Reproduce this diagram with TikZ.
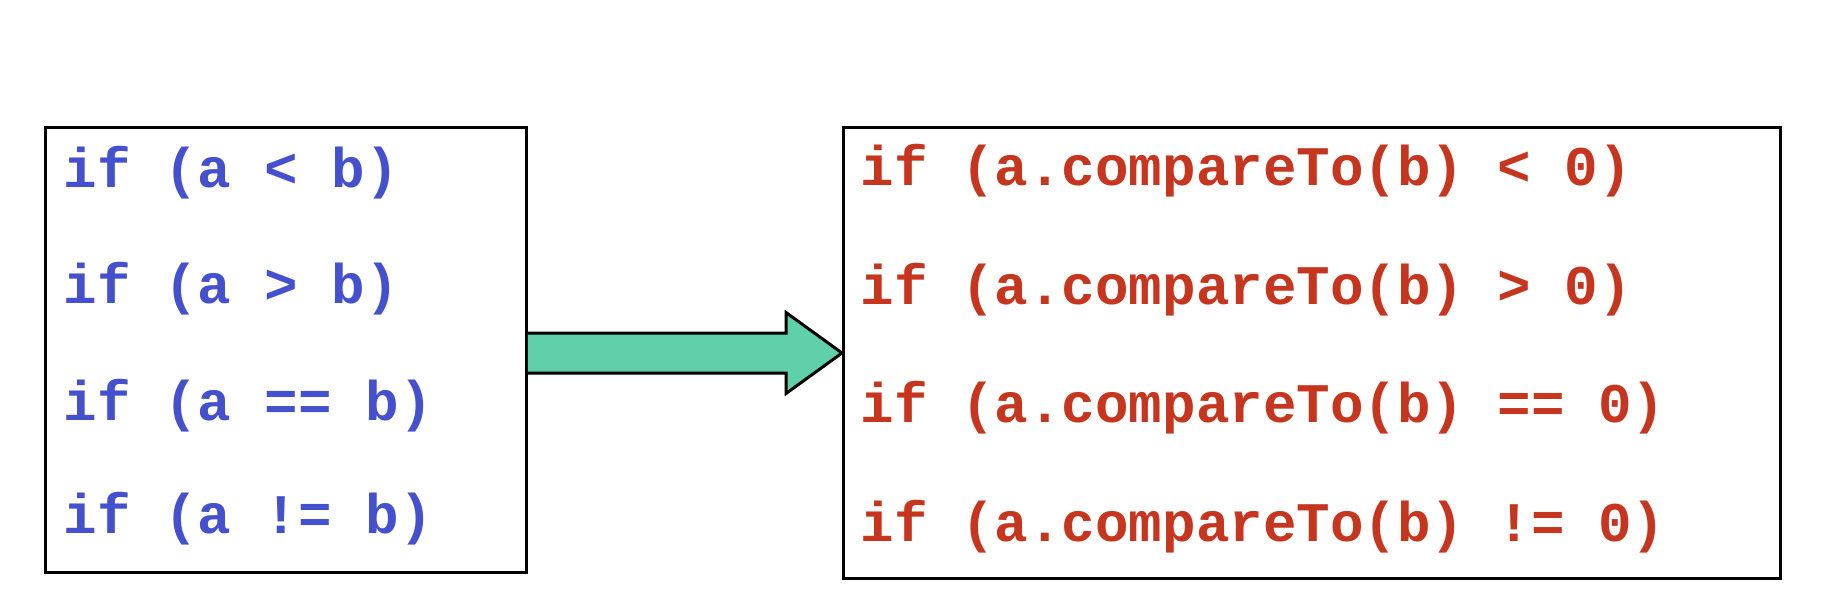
\documentclass[tikz,border=0pt]{standalone}
\usepackage{fontspec}
\setmonofont{Liberation Mono}
\usepackage{tikz}
\usetikzlibrary{calc}

\definecolor{oldblue}{HTML}{4550CF}
\definecolor{newred}{HTML}{C6361F}
\definecolor{arrowgreen}{HTML}{5FD0AA}

\tikzset{
  codebox/.style={draw=black, line width=0.85pt, anchor=north west},
  codeline/.style={anchor=base west, inner sep=0pt,
    font=\ttfamily\bfseries\fontsize{15.9}{19}\selectfont},
  arrowbody/.style={draw=black, fill=arrowgreen, line width=0.85pt}
}

\begin{document}
\begin{tikzpicture}
\useasboundingbox (0,0) rectangle (18.34,-6.08);

% Boxes
\node[codebox, minimum width=4.81cm, minimum height=4.45cm] (old) at (0.44,-1.26) {};
\node[codebox, minimum width=9.37cm, minimum height=4.51cm] (new) at (8.42,-1.26) {};

% Primitive comparisons
\begin{scope}[codeline/.append style={text=oldblue}]
    \node[codeline] (oldlt) at (0.63,-1.87) {if (a < b)};
    \node[codeline] (oldgt) at (0.63,-3.03) {if (a > b)};
    \node[codeline] (oldeq) at (0.63,-4.20) {if (a == b)};
    \node[codeline] (oldne) at (0.63,-5.33) {if (a != b)};
\end{scope}

% compareTo comparisons
\begin{scope}[codeline/.append style={text=newred}]
    \node[codeline] (newlt) at (8.60,-1.85) {if (a.compareTo(b) < 0)};
    \node[codeline] (newgt) at (8.60,-3.04) {if (a.compareTo(b) > 0)};
    \node[codeline] (neweq) at (8.60,-4.22) {if (a.compareTo(b) == 0)};
    \node[codeline] (newne) at (8.60,-5.41) {if (a.compareTo(b) != 0)};
\end{scope}

% Block arrow
\coordinate (tail) at (old.east |- new.west);
\coordinate (neck) at ($(new.west)+(-0.56,0)$);
\draw[arrowbody] ($(tail)+(0,.2)$) -- ($(neck)+(0,.2)$) -- ($(neck)+(0,.405)$)
    -- (new.west) -- ($(neck)+(0,-.405)$) -- ($(neck)+(0,-.2)$) -- ($(tail)+(0,-.2)$);

\end{tikzpicture}
\end{document}
